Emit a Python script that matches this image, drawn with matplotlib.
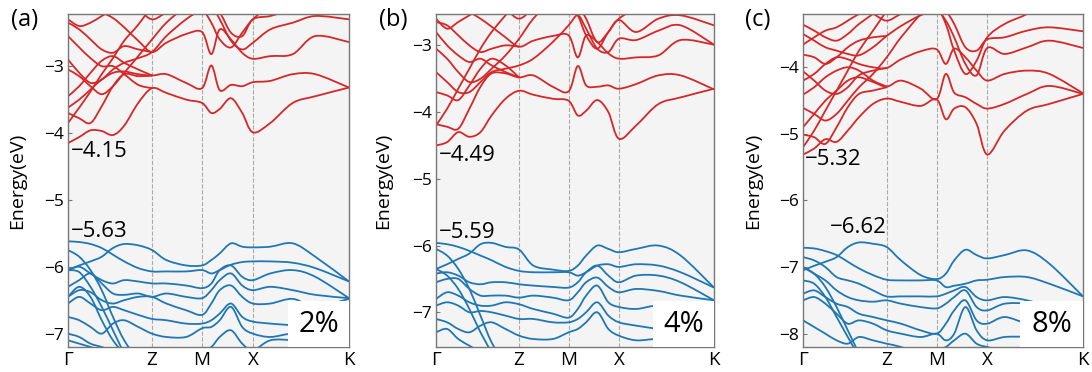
import numpy as np
import matplotlib
matplotlib.use("Agg")
import matplotlib.pyplot as plt
from matplotlib.patches import Rectangle, PathPatch
from matplotlib.path import Path

plt.rcParams['font.family'] = ['Open Sans', 'DejaVu Sans']

# k-path positions (fraction of path) and labels
kpts = [0, 0.04, 0.08, 0.12, 0.16, 0.2, 0.25, 0.299, 0.35, 0.42,
        0.477, 0.51, 0.54, 0.58, 0.62, 0.658, 0.72, 0.8, 0.88, 1.0]
sym_pos = [0, 0.299, 0.477, 0.658, 1.0]
sym_lab = ['Γ', 'Z', 'M', 'X', 'K']

# ---------------- panel (a), 2% ----------------
red_a = [
    [-4.15, -4.06, -3.96, -3.97, -4.03, -3.89, -3.55, -3.33, -3.40, -3.50, -3.55, -3.70, -3.64, -3.48, -3.70, -3.99, -3.85, -3.55, -3.45, -3.32],
    [-3.62, -3.50, -3.35, -3.20, -3.10, -3.08, -3.12, -3.14, -3.12, -3.25, -3.33, -2.99, -3.36, -3.28, -3.30, -3.24, -3.22, -3.12, -3.12, -3.32],
    [-2.10, -2.10, -2.15, -2.20, -2.28, -2.42, -2.62, -2.79, -2.65, -2.52, -2.49, -2.82, -2.45, -2.60, -2.80, -2.89, -2.85, -2.82, -2.55, -2.64],
    [-2.90, -3.10, -3.25, -3.20, -3.05, -2.95, -2.88, -2.79, -2.55, -2.30, -2.15, -2.10, -2.30, -2.62, -2.75, -2.65, -2.45, -2.35, -2.25, -2.30],
    [-2.00, -2.00, -2.00, -2.00, -2.00, -2.05, -2.15, -2.30, -2.20, -2.10, -2.05, -2.15, -2.20, -2.50, -2.55, -2.30, -2.25, -2.15, -2.10, -2.10],
    [-2.00, -2.00, -2.00, -2.00, -2.00, -2.00, -2.00, -2.00, -2.00, -2.05, -2.15, -2.35, -2.60, -2.72, -2.50, -2.30, -2.10, -2.00, -2.00, -2.00],
    [-3.85, -3.62, -3.38, -3.12, -2.88, -2.62, -2.38, -2.10],
    [-3.70, -3.78, -3.85, -3.60, -3.30, -3.12, -3.15, -3.14],
    [-3.05, -3.15, -3.30, -3.42, -3.30, -3.10, -2.85, -2.60, -2.35, -2.10],
    [-2.55, -2.72, -2.88, -3.00, -3.00, -3.12, -3.28, -3.33],
    [-2.35, -2.45, -2.60, -2.75, -2.80, -2.70, -2.75, -2.79],
    [-2.30, -2.40, -2.35, -2.25, -2.15, -2.00],
    [-3.45, -3.30, -3.10, -2.92, -2.85, -2.95, -3.05, -3.14],
]
blue_a = [
    [-6.05, -5.98, -5.92, -5.85, -5.72, -5.66, -5.68, -5.75, -5.90, -5.98, -5.98, -5.90, -5.80, -5.65, -5.70, -5.71, -5.70, -5.65, -5.85, -6.22],
    [-5.62, -5.63, -5.66, -5.72, -5.82, -5.92, -6.02, -6.07, -6.07, -6.07, -6.05, -6.10, -6.05, -5.97, -5.93, -5.92, -5.92, -5.94, -6.02, -6.22],
    [-6.05, -6.00, -6.10, -6.20, -6.25, -6.20, -6.22, -6.25, -6.25, -6.28, -6.32, -6.25, -6.05, -5.98, -6.15, -6.20, -6.10, -6.05, -6.15, -6.47],
    [-6.30, -6.20, -6.10, -6.25, -6.40, -6.42, -6.40, -6.45, -6.40, -6.45, -6.47, -6.35, -6.20, -6.10, -6.28, -6.35, -6.30, -6.35, -6.42, -6.47],
    [-6.45, -6.35, -6.38, -6.50, -6.55, -6.50, -6.45, -6.45, -6.55, -6.65, -6.72, -6.55, -6.35, -6.28, -6.45, -6.55, -6.55, -6.48, -6.60, -6.48],
    [-6.55, -6.45, -6.55, -6.65, -6.60, -6.65, -6.72, -6.78, -6.80, -6.85, -6.85, -6.80, -6.70, -6.55, -6.75, -6.82, -6.85, -6.88, -6.95, -7.05],
    [-6.75, -6.80, -6.90, -7.00, -6.85, -6.80, -6.90, -7.00, -7.05, -7.05, -6.92, -6.90, -6.80, -6.60, -6.90, -7.00, -7.05, -7.00, -7.05, -7.10],
    [-7.10, -7.15, -7.20, -7.25, -7.30, -7.25, -7.25, -7.30, -7.30, -7.30, -7.25, -7.20, -7.05, -6.95, -7.15, -7.25, -7.10, -7.10, -7.15, -7.25],
    [-5.75, -5.85, -6.05, -6.35, -6.75, -7.10, -7.40],
    [-6.05, -6.08, -6.30, -6.60, -6.95, -7.30],
    [-6.45, -6.30, -6.45, -6.80, -7.10, -7.30],
    [-7.00, -7.05, -7.15, -7.20, -7.25],
]

# ---------------- panel (b), 4% ----------------
red_b = [
    [-4.50, -4.45, -4.30, -4.37, -4.30, -4.05, -3.80, -3.68, -3.74, -3.80, -3.83, -4.05, -3.98, -3.82, -4.00, -4.40, -4.20, -3.88, -3.78, -3.65],
    [-4.18, -4.22, -4.25, -3.95, -3.62, -3.42, -3.42, -3.48, -3.45, -3.62, -3.69, -3.31, -3.60, -3.62, -3.60, -3.65, -3.58, -3.45, -3.45, -3.66],
    [-2.30, -2.35, -2.40, -2.50, -2.60, -2.72, -2.88, -3.02, -2.93, -2.86, -2.85, -3.18, -2.85, -2.95, -3.12, -3.20, -3.18, -3.15, -2.92, -2.99],
    [-3.40, -3.55, -3.70, -3.70, -3.55, -3.40, -3.35, -3.30, -3.20, -2.95, -2.70, -2.55, -2.75, -3.05, -3.10, -2.90, -2.92, -2.78, -2.70, -2.99],
    [-2.20, -2.20, -2.20, -2.20, -2.20, -2.30, -2.45, -2.60, -2.45, -2.30, -2.20, -2.40, -2.60, -2.95, -2.80, -2.62, -2.80, -2.60, -2.55, -2.70],
    [-2.20, -2.20, -2.20, -2.20, -2.20, -2.20, -2.20, -2.20, -2.20, -2.30, -2.40, -2.55, -2.85, -3.05, -2.80, -2.60, -2.45, -2.30, -2.20, -2.20],
    [-4.20, -3.95, -3.65, -3.35, -3.05, -2.80, -2.55, -2.30],
    [-3.70, -3.75, -3.82, -3.60, -3.35, -3.20, -3.30, -3.48],
    [-3.05, -3.20, -3.40, -3.55, -3.50, -3.35, -3.15, -2.90, -2.60, -2.30],
    [-2.80, -3.00, -3.15, -3.25, -3.20, -3.30, -3.40, -3.48],
    [-2.65, -2.70, -2.85, -3.00, -3.10, -3.05, -3.00, -3.02],
    [-2.60, -2.75, -2.65, -2.55, -2.45, -2.35],
]
blue_b = [
    [-6.35, -6.28, -6.20, -6.12, -5.98, -5.96, -6.02, -6.06, -6.30, -6.36, -6.38, -6.30, -6.15, -6.00, -6.05, -6.10, -6.05, -6.00, -6.15, -6.63],
    [-5.96, -5.98, -6.02, -6.08, -6.15, -6.22, -6.32, -6.38, -6.40, -6.40, -6.40, -6.45, -6.40, -6.30, -6.28, -6.32, -6.28, -6.30, -6.40, -6.63],
    [-6.42, -6.40, -6.45, -6.55, -6.58, -6.55, -6.55, -6.58, -6.60, -6.62, -6.63, -6.55, -6.40, -6.30, -6.45, -6.55, -6.45, -6.45, -6.55, -6.82],
    [-6.55, -6.50, -6.50, -6.65, -6.75, -6.75, -6.75, -6.78, -6.75, -6.78, -6.82, -6.70, -6.55, -6.48, -6.62, -6.70, -6.65, -6.68, -6.75, -6.82],
    [-6.80, -6.70, -6.75, -6.85, -6.90, -6.90, -6.85, -6.88, -6.95, -7.02, -7.08, -6.95, -6.75, -6.60, -6.85, -6.92, -6.95, -6.90, -6.98, -6.85],
    [-6.90, -6.85, -6.90, -7.00, -6.98, -7.00, -7.05, -7.10, -7.10, -7.15, -7.15, -7.10, -7.00, -6.85, -7.05, -7.15, -7.20, -7.25, -7.30, -7.40],
    [-7.10, -7.15, -7.25, -7.30, -7.20, -7.15, -7.25, -7.35, -7.40, -7.40, -7.30, -7.25, -7.15, -7.00, -7.25, -7.35, -7.42, -7.40, -7.45, -7.50],
    [-6.05, -6.15, -6.35, -6.65, -7.05, -7.45, -7.80],
    [-6.35, -6.45, -6.65, -6.95, -7.30, -7.60],
    [-7.30, -7.25, -7.40, -7.50, -7.60],
]

# ---------------- panel (c), 8% ----------------
red_c = [
    [-5.31, -5.22, -5.08, -5.12, -4.95, -4.75, -4.55, -4.47, -4.52, -4.58, -4.48, -4.78, -4.62, -4.60, -4.85, -5.31, -4.95, -4.65, -4.55, -4.40],
    [-4.90, -4.70, -4.50, -4.35, -4.20, -4.15, -4.22, -4.29, -4.20, -4.32, -4.48, -4.10, -4.38, -4.45, -4.55, -4.62, -4.55, -4.40, -4.28, -4.40],
    [-4.20, -4.10, -3.95, -3.85, -3.88, -3.95, -4.00, -4.01, -3.88, -3.76, -3.73, -3.95, -3.72, -3.85, -4.05, -4.20, -4.10, -4.05, -4.10, -4.39],
    [-3.50, -3.60, -3.70, -3.75, -3.80, -3.82, -3.70, -3.53, -3.38, -3.22, -3.15, -3.30, -3.55, -3.95, -4.12, -3.71, -3.80, -3.70, -3.60, -3.71],
    [-3.10, -3.10, -3.10, -3.10, -3.10, -3.15, -3.20, -3.30, -3.20, -3.10, -3.05, -3.15, -3.35, -3.70, -3.75, -3.58, -3.55, -3.45, -3.40, -3.46],
    [-2.90, -2.90, -2.90, -2.90, -2.90, -2.90, -2.90, -2.90, -2.90, -3.00, -3.10, -3.35, -3.75, -4.10, -3.90, -3.55, -3.35, -3.20, -3.00, -3.00],
    [-5.20, -4.95, -4.65, -4.35, -4.05, -3.75, -3.45, -3.15],
    [-5.01, -5.05, -5.15, -4.90, -4.60, -4.40, -4.35, -4.30],
    [-4.61, -4.70, -4.80, -4.70, -4.50, -4.30, -4.10, -3.85, -3.55, -3.20],
    [-4.41, -4.30, -4.15, -4.05, -4.00, -4.05, -4.20, -4.29],
    [-4.06, -4.20, -4.35, -4.40, -4.30, -4.12, -4.05, -4.01],
    [-3.81, -3.85, -3.95, -3.85, -3.70, -3.60, -3.55, -3.53],
    [-3.66, -3.55, -3.45, -3.40, -3.30, -3.20, -3.10],
    [-3.36, -3.45, -3.55, -3.60, -3.50, -3.35, -3.20],
]
blue_c = [
    [-7.05, -6.98, -6.92, -6.85, -6.70, -6.63, -6.65, -6.70, -6.90, -7.12, -7.18, -7.10, -6.90, -6.74, -6.82, -6.87, -6.82, -6.75, -6.95, -7.44],
    [-6.71, -6.72, -6.76, -6.82, -6.92, -7.02, -7.12, -7.19, -7.20, -7.20, -7.20, -7.30, -7.28, -7.25, -7.20, -7.19, -7.15, -7.15, -7.25, -7.44],
    [-6.85, -6.90, -7.00, -7.15, -7.20, -7.25, -7.35, -7.44, -7.44, -7.44, -7.44, -7.40, -7.35, -7.30, -7.45, -7.50, -7.45, -7.50, -7.60, -7.75],
    [-7.00, -7.10, -7.20, -7.35, -7.45, -7.50, -7.52, -7.50, -7.55, -7.60, -7.62, -7.55, -7.45, -7.35, -7.60, -7.65, -7.55, -7.55, -7.62, -7.75],
    [-7.40, -7.35, -7.45, -7.55, -7.60, -7.70, -7.75, -7.80, -7.85, -7.95, -8.00, -7.85, -7.65, -7.50, -7.80, -7.85, -7.75, -7.85, -7.90, -8.05],
    [-7.50, -7.45, -7.55, -7.70, -7.85, -7.80, -7.85, -7.95, -8.00, -8.05, -8.00, -8.10, -8.00, -7.60, -7.95, -8.10, -8.05, -8.05, -8.10, -8.15],
    [-7.80, -7.90, -8.00, -8.10, -8.15, -8.05, -8.10, -8.15, -8.20, -8.30, -8.25, -8.20, -8.10, -8.00, -8.15, -8.20, -8.25, -8.20, -8.25, -8.30],
    [-7.00, -7.10, -7.30, -7.60, -7.95, -8.30],
    [-7.20, -7.25, -7.45, -7.75, -8.05, -8.35],
]

ylims = [(-7.2, -2.22), (-7.52, -2.53), (-8.2, -3.2)]
yticks = [[-7, -6, -5, -4, -3], [-7, -6, -5, -4, -3], [-8, -7, -6, -5, -4]]
strain = ['2%', '4%', '8%']
tags = ['(a)', '(b)', '(c)']
cbm_txt = ['−4.15', '−4.49', '−5.32']
vbm_txt = ['−5.63', '−5.59', '−6.62']
cbm_xy = [(0.01, -4.28), (0.01, -4.65), (0.005, -5.38)]
vbm_xy = [(0.01, -5.48), (0.01, -5.80), (0.096, -6.41)]


def band_path(x, y):
    # smooth curve through the read points (Catmull-Rom drawn as cubic Beziers)
    p = np.column_stack([x, y])
    q = np.vstack([p[:1], p, p[-1:]])
    verts, codes = [p[0]], [Path.MOVETO]
    for i in range(len(p) - 1):
        c1 = q[i + 1] + (q[i + 2] - q[i]) / 6
        c2 = q[i + 2] - (q[i + 3] - q[i + 1]) / 6
        verts += [c1, c2, q[i + 2]]
        codes += [Path.CURVE4] * 3
    return Path(verts, codes)


fig = plt.figure(figsize=(10.92, 3.72), dpi=100)
lefts = [68 / 1092, 436 / 1092, 803 / 1092]
widths = [281 / 1092, 278 / 1092, 280 / 1092]
tag_x = [25 / 1092, 393 / 1092, 758 / 1092]
box_x0 = [0.783, 0.780, 0.775]
lab_x = [-0.15, -0.158, -0.146]

for i, (reds, blues) in enumerate([(red_a, blue_a), (red_b, blue_b), (red_c, blue_c)]):
    ax = fig.add_axes([lefts[i], 25 / 372, widths[i], 333 / 372])
    ax.set_facecolor('#f4f4f4')
    for bands, col in ((reds, '#d62728'), (blues, '#1f77b4')):
        for b in bands:
            ax.add_patch(PathPatch(band_path(kpts[:len(b)], b), fill=False,
                                   edgecolor=col, lw=1.3, zorder=2))
    for p in sym_pos[1:-1]:
        ax.axvline(p, color='#aaaaaa', ls='--', lw=0.8, zorder=1)
    ax.set_xlim(0, 1)
    ax.set_ylim(*ylims[i])
    ax.set_xticks(sym_pos)
    ax.set_xticklabels(sym_lab, fontsize=13.5)
    ax.set_yticks(yticks[i])
    ax.tick_params(axis='x', length=0, pad=3)
    ax.tick_params(axis='y', direction='in', length=3, color='#777777', labelsize=12.5, pad=3)
    for s in ax.spines.values():
        s.set_color('#777777')
        s.set_linewidth(1.0)
    ax.set_ylabel('Energy(eV)', fontsize=14)
    ax.yaxis.set_label_coords(lab_x[i], 0.5)

    ax.text(cbm_xy[i][0], cbm_xy[i][1], cbm_txt[i], fontsize=16, va='center', ha='left', zorder=4)
    ax.text(vbm_xy[i][0], vbm_xy[i][1], vbm_txt[i], fontsize=16, va='center', ha='left', zorder=4)

    ax.add_patch(Rectangle((box_x0[i], 0), 1 - box_x0[i], 0.138, transform=ax.transAxes,
                           facecolor='white', edgecolor='none', zorder=3))
    ax.text((box_x0[i] + 1) / 2, 0.068, strain[i], transform=ax.transAxes,
            fontsize=21, ha='center', va='center', zorder=4)

    fig.text(tag_x[i], 1 - 20 / 372, tags[i], fontsize=17, ha='center', va='center')

fig.savefig('out.png', dpi=100)
